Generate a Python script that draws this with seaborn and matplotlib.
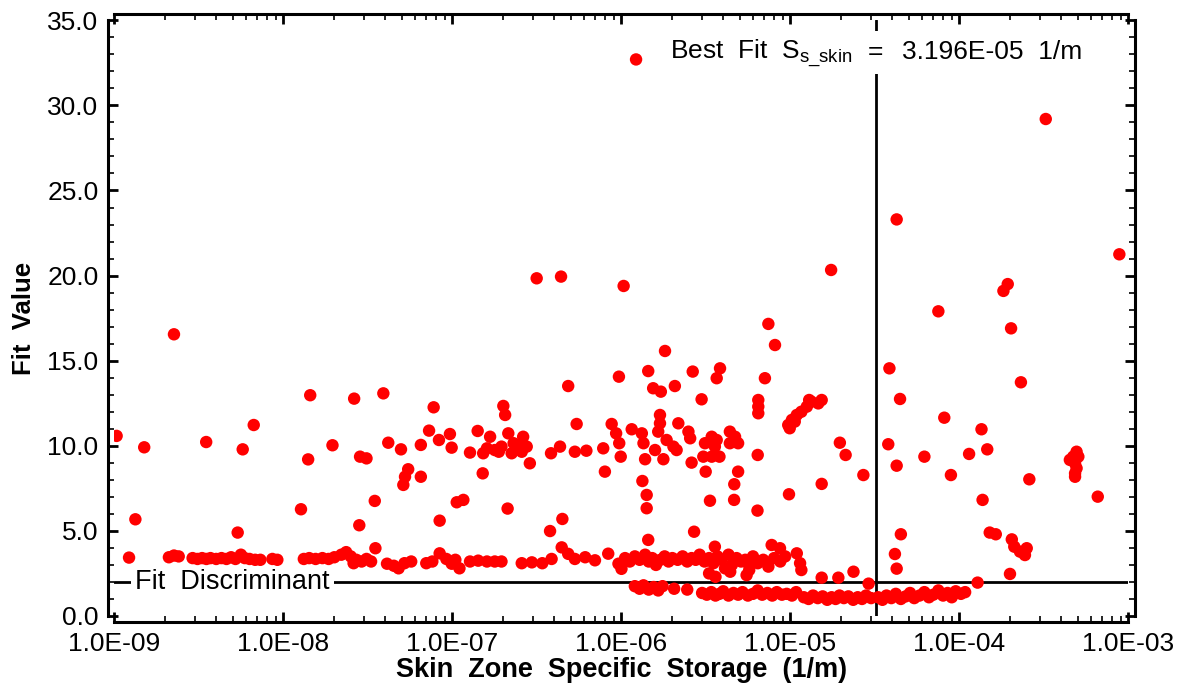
import numpy as np
import pandas as pd
import seaborn as sns
import matplotlib.pyplot as plt
from matplotlib.ticker import FixedLocator, MultipleLocator, FuncFormatter, NullFormatter

# best fit and discriminant
best_fit = 3.196e-05
fit_disc = 2.0

# isolated high points
top_x = [1.22e-6, 3.24e-4, 4.25e-5, 8.83e-4, 3.15e-7, 4.39e-7, 1.03e-6, 1.74e-5, 1.93e-4, 1.82e-4]
top_y = [32.7, 29.2, 23.3, 21.25, 19.84, 19.94, 19.39, 20.33, 19.5, 19.1]

# left part of the cloud (1e-9 .. 1e-6)
left_x = [1.03e-9, 1.5e-9, 1.33e-9, 2.25e-9, 3.49e-9, 5.74e-9, 5.36e-9, 6.67e-9,
          1.44e-8, 1.40e-8, 1.27e-8, 1.95e-8, 2.62e-8, 2.84e-8, 2.81e-8, 3.1e-8,
          3.9e-8, 3.47e-8, 3.5e-8, 4.17e-8, 4.96e-8, 5.47e-8, 5.24e-8, 5.12e-8, 6.5e-8, 6.5e-8,
          7.27e-8, 7.74e-8, 8.32e-8, 9.66e-8, 9.89e-8, 8.4e-8, 1.06e-7, 1.16e-7, 1.27e-7, 1.41e-7, 1.51e-7,
          1.52e-7, 1.67e-7, 1.78e-7, 1.95e-7, 2.0e-7, 2.05e-7, 2.14e-7, 2.24e-7, 2.45e-7, 2.62e-7,
          2.75e-7, 2.87e-7, 1.6e-7, 1.88e-7, 2.3e-7, 2.57e-7, 2.12e-7, 3.83e-7, 4.33e-7, 4.84e-7,
          5.43e-7, 5.3e-7, 6.2e-7, 3.78e-7, 4.47e-7, 7.98e-7, 7.8e-7, 8.75e-7, 9.3e-7, 9.7e-7, 9.9e-7, 9.66e-7]
left_y = [10.58, 9.91, 5.68, 16.55, 10.22, 9.79, 4.9, 11.22,
          12.97, 9.2, 6.27, 10.03, 12.77, 9.36, 5.33, 9.26,
          13.08, 6.76, 3.98, 10.18, 9.79, 8.62, 8.18, 7.70, 10.05, 8.18,
          10.89, 12.26, 10.34, 10.69, 9.89, 5.6, 6.68, 6.82, 9.6, 10.87, 8.38,
          9.56, 10.53, 9.75, 9.95, 12.34, 11.81, 10.73, 9.56, 9.95, 10.53,
          9.95, 8.97, 9.85, 9.65, 10.15, 9.65, 6.31, 9.56, 9.95, 13.51,
          11.28, 9.65, 9.71, 4.99, 5.7, 8.48, 9.85, 11.28, 10.73, 10.15, 9.36, 14.06]

# middle part of the cloud (1e-6 .. 3e-5)
mid_x = [7.4e-6, 8.1e-6, 1.81e-6, 1.44e-6, 2.64e-6, 3.83e-6, 3.66e-6, 7.06e-6, 1.54e-6, 1.71e-6,
         2.07e-6, 2.98e-6, 6.45e-6, 6.45e-6, 6.45e-6, 9.7e-6, 1.02e-5, 1.09e-5, 1.16e-5, 1.25e-5,
         1.33e-5, 1.29e-5, 1.46e-5, 1.53e-5, 9.9e-6, 1.06e-5, 1.96e-5, 2.12e-5, 2.7e-5, 1.53e-5,
         9.8e-6, 6.4e-6, 6.38e-6, 1.15e-6, 1.32e-6, 1.35e-6, 1.38e-6, 1.69e-6, 1.69e-6, 1.65e-6,
         1.58e-6, 1.77e-6, 1.85e-6, 2.03e-6, 2.12e-6, 2.17e-6, 2.49e-6, 2.55e-6, 2.6e-6, 3.12e-6,
         3.42e-6, 3.66e-6, 3.57e-6, 3.05e-6, 3.42e-6, 3.8e-6, 3.15e-6, 4.38e-6, 4.7e-6, 4.38e-6,
         4.9e-6, 4.9e-6, 4.65e-6, 4.64e-6, 3.34e-6, 1.33e-6, 1.41e-6, 1.41e-6, 2.69e-6, 1.44e-6,
         3.57e-6, 7.74e-6, 8.67e-6, 1.09e-5, 1.14e-5, 1.16e-5, 2.36e-5, 1.53e-5, 1.92e-5]
mid_y = [17.16, 15.92, 15.57, 14.39, 14.36, 14.55, 13.97, 13.97, 13.38, 13.18,
         13.51, 12.73, 12.69, 12.30, 11.91, 11.22, 11.52, 11.81, 12.0, 12.3,
         12.59, 12.69, 12.49, 12.69, 11.03, 11.42, 10.18, 9.46, 8.28, 7.76,
         7.15, 9.46, 6.19, 10.97, 10.73, 10.15, 9.21, 11.81, 11.32, 10.83,
         9.75, 9.21, 10.34, 9.95, 9.75, 11.32, 10.83, 10.44, 9.01, 10.15,
         10.53, 10.34, 9.95, 9.36, 9.36, 9.36, 8.48, 10.83, 10.53, 10.15,
         10.15, 8.48, 7.74, 6.82, 6.77, 7.93, 7.11, 6.33, 4.95, 4.47,
         4.07, 4.17, 3.98, 3.68, 3.1, 2.7, 2.6, 2.25, 2.25]

# right part of the cloud (3e-5 .. 1e-3)
right_x = [7.5e-5, 2.02e-4, 3.85e-5, 2.31e-4, 4.45e-5, 8.13e-5, 1.35e-4, 3.79e-5, 6.2e-5, 1.14e-4,
           1.46e-4, 4.25e-5, 8.9e-5, 2.59e-4, 1.37e-4, 6.58e-4, 4.93e-4, 4.71e-4, 4.5e-4, 4.83e-4,
           4.93e-4, 4.83e-4, 4.83e-4, 5.05e-4, 4.5e-5, 4.15e-5, 4.25e-5, 1.51e-4, 1.64e-4, 2.04e-4,
           2.11e-4, 2.28e-4, 2.44e-4, 2.5e-4, 1.99e-4, 1.28e-4]
right_y = [17.9, 16.9, 14.55, 13.73, 12.75, 11.65, 10.97, 10.09, 9.36, 9.52,
           9.79, 8.83, 8.28, 8.03, 6.82, 7.01, 9.65, 9.36, 9.17, 8.97,
           8.68, 8.38, 8.18, 9.36, 4.8, 3.64, 2.78, 4.9, 4.8, 4.5,
           4.07, 3.78, 3.58, 3.98, 2.47, 1.96]

# dense band around 3.3
band_hi_x = [1.22e-9, 2.1e-9, 2.25e-9, 2.4e-9, 2.9e-9, 3.1e-9, 3.3e-9, 3.5e-9, 3.7e-9, 4.0e-9,
             4.3e-9, 4.6e-9, 4.9e-9, 5.2e-9, 5.6e-9, 5.9e-9, 6.3e-9, 6.8e-9, 7.3e-9, 8.6e-9, 9.2e-9,
             1.32e-8, 1.42e-8, 1.55e-8, 1.7e-8, 1.85e-8, 2.0e-8, 2.2e-8, 2.35e-8, 2.5e-8, 2.6e-8,
             2.7e-8, 2.9e-8, 3.1e-8, 3.3e-8, 4.1e-8, 4.5e-8, 4.8e-8, 5.2e-8, 5.7e-8, 7.0e-8, 7.6e-8,
             8.4e-8, 9.2e-8, 9.9e-8, 1.04e-7, 1.1e-7, 1.27e-7, 1.42e-7, 1.6e-7, 1.78e-7, 1.95e-7,
             2.57e-7, 2.95e-7, 3.4e-7, 3.86e-7, 4.43e-7, 4.84e-7, 5.3e-7, 6.1e-7, 6.97e-7, 8.35e-7,
             9.6e-7, 1.0e-6, 1.05e-6, 1.12e-6, 1.2e-6, 1.28e-6, 1.38e-6, 1.45e-6, 1.52e-6, 1.6e-6,
             1.7e-6, 1.8e-6, 1.9e-6, 2.0e-6, 2.15e-6, 2.3e-6, 2.45e-6, 2.6e-6, 2.75e-6, 2.9e-6,
             3.1e-6, 3.3e-6, 3.5e-6, 3.7e-6, 3.9e-6, 4.1e-6, 4.3e-6, 4.5e-6, 4.8e-6, 5.1e-6, 5.4e-6,
             5.7e-6, 6.0e-6, 6.4e-6, 6.9e-6, 7.4e-6, 8.0e-6, 8.7e-6, 9.3e-6, 5.6e-6, 3.3e-6, 3.6e-6,
             4.4e-6, 5.5e-6]
band_hi_y = [3.43, 3.45, 3.55, 3.5, 3.4, 3.35, 3.4, 3.35, 3.4, 3.35,
             3.4, 3.35, 3.45, 3.35, 3.6, 3.4, 3.35, 3.3, 3.3, 3.35, 3.3,
             3.35, 3.4, 3.35, 3.4, 3.35, 3.45, 3.6, 3.75, 3.5, 3.1,
             3.3, 3.2, 3.35, 3.2, 3.07, 2.95, 2.8, 3.1, 3.2, 3.1, 3.2,
             3.68, 3.35, 3.07, 3.3, 2.8, 3.2, 3.25, 3.2, 3.2, 3.2,
             3.1, 3.15, 3.1, 3.35, 4.03, 3.65, 3.35, 3.45, 3.27, 3.66,
             3.07, 2.77, 3.4, 3.2, 3.5, 3.3, 3.6, 3.2, 3.4, 3.0,
             3.3, 3.5, 3.2, 3.4, 3.3, 3.5, 3.2, 3.4, 3.3, 3.6,
             3.2, 3.4, 3.1, 3.5, 3.3, 2.8, 3.6, 3.0, 3.4, 3.2, 3.3,
             2.7, 3.5, 3.1, 3.3, 2.9, 3.4, 3.2, 3.5, 3.1, 2.5, 2.3,
             2.6, 2.4]

# dense band below the discriminant
band_lo_x = [1.2e-6, 1.28e-6, 1.35e-6, 1.45e-6, 1.55e-6, 1.65e-6, 1.75e-6, 2.05e-6, 2.45e-6,
             3.0e-6, 3.2e-6, 3.4e-6, 3.6e-6, 3.8e-6, 4.0e-6, 4.3e-6, 4.6e-6, 4.9e-6, 5.2e-6, 5.6e-6,
             6.0e-6, 6.4e-6, 6.8e-6, 7.3e-6, 7.8e-6, 8.3e-6, 8.9e-6, 9.5e-6, 1.02e-5, 1.08e-5,
             1.2e-5, 1.28e-5, 1.36e-5, 1.45e-5, 1.55e-5, 1.65e-5, 1.75e-5, 1.85e-5, 1.95e-5, 2.07e-5,
             2.2e-5, 2.35e-5, 2.5e-5, 2.65e-5, 2.8e-5, 3.0e-5, 3.3e-5, 3.5e-5, 3.7e-5, 3.95e-5,
             4.2e-5, 4.5e-5, 4.8e-5, 5.1e-5, 5.4e-5, 5.8e-5, 6.2e-5, 6.6e-5, 7.0e-5, 7.5e-5,
             8.0e-5, 8.5e-5, 9.0e-5, 9.5e-5, 1.02e-4, 1.08e-4, 2.9e-5]
band_lo_y = [1.75, 1.6, 1.8, 1.55, 1.7, 1.5, 1.75, 1.6, 1.55,
             1.35, 1.25, 1.4, 1.2, 1.3, 1.45, 1.2, 1.35, 1.25, 1.4, 1.2,
             1.3, 1.5, 1.25, 1.35, 1.2, 1.4, 1.25, 1.3, 1.2, 1.4,
             1.1, 1.0, 1.2, 1.05, 1.15, 0.95, 1.1, 1.0, 1.2, 1.05,
             1.15, 0.95, 1.1, 1.0, 1.2, 1.05, 1.1, 0.95, 1.2, 1.05,
             1.3, 1.0, 1.15, 1.35, 1.05, 1.2, 1.4, 1.1, 1.25, 1.5,
             1.2, 1.35, 1.1, 1.45, 1.3, 1.4, 1.9]

x_major = [1e-9, 1e-8, 1e-7, 1e-6, 1e-5, 1e-4, 1e-3]

df = pd.DataFrame({
    'ss': top_x + left_x + mid_x + right_x + band_hi_x + band_lo_x,
    'fit': top_y + left_y + mid_y + right_y + band_hi_y + band_lo_y,
})

sns.set_style('ticks')
plt.rcParams['font.family'] = ['Liberation Sans', 'DejaVu Sans']
plt.rcParams['mathtext.default'] = 'regular'
for k in ['text.color', 'axes.labelcolor', 'xtick.color', 'ytick.color', 'axes.edgecolor']:
    plt.rcParams[k] = 'black'

fig = plt.figure(figsize=(11.86, 6.88), dpi=100)
ax = fig.add_axes([0.0965, 0.1047, 0.855, 0.8658])

sns.scatterplot(data=df, x='ss', y='fit', color='#ff0000', s=80, edgecolor='none',
                linewidth=0, ax=ax, zorder=5, legend=False)

ax.set_xscale('log')
ax.set_xlim(1e-9, 1e-3)
ax.set_ylim(0, 35)

# reference lines
ax.axhline(fit_disc, color='black', lw=2, zorder=2)
ax.axvline(best_fit, ymin=0, ymax=1, color='black', lw=2, zorder=2)

ax.text(1.33e-9, fit_disc, 'Fit  Discriminant', fontsize=19.5, va='center', ha='left',
        bbox=dict(boxstyle='square,pad=0.15', fc='white', ec='none'), zorder=3)

ax.annotate('Best  Fit  S$_{s\\_skin}$', xy=(best_fit, 32.7), xytext=(-17, 0),
            textcoords='offset points', ha='right', va='baseline', fontsize=19, zorder=3)
ax.annotate('=', xy=(best_fit, 32.7), ha='center', va='baseline', fontsize=19, zorder=3,
            bbox=dict(boxstyle='square,pad=0.35', fc='white', ec='none'))
ax.annotate('3.196E-05  1/m', xy=(best_fit, 32.7), xytext=(19, 0),
            textcoords='offset points', ha='left', va='baseline', fontsize=19, zorder=3)

# axes styling
for side in ['left', 'right', 'top', 'bottom']:
    ax.spines[side].set_visible(True)
    ax.spines[side].set_linewidth(2.2)
    ax.spines[side].set_position(('outward', 4.5))

ax.yaxis.set_major_locator(MultipleLocator(5))
ax.yaxis.set_minor_locator(MultipleLocator(1))
ax.yaxis.set_major_formatter(FuncFormatter(lambda v, p: f'{v:.1f}'))
ax.xaxis.set_major_locator(FixedLocator(x_major))
ax.xaxis.set_minor_locator(FixedLocator([d * m for d in x_major[:-1] for m in range(2, 10)]))
ax.xaxis.set_major_formatter(FuncFormatter(lambda v, p: f'{v:.1E}'))
ax.xaxis.set_minor_formatter(NullFormatter())

ax.tick_params(which='both', direction='in', top=True, right=True, labelsize=19, pad=7)
ax.tick_params(which='major', length=7, width=2)
ax.tick_params(which='minor', length=4, width=1.2)

ax.set_xlabel('Skin  Zone  Specific  Storage  (1/m)', fontsize=19.5, fontweight='bold', labelpad=1)
ax.set_ylabel('Fit  Value', fontsize=18.5, fontweight='bold', labelpad=8)

fig.savefig('out.png', dpi=100)
